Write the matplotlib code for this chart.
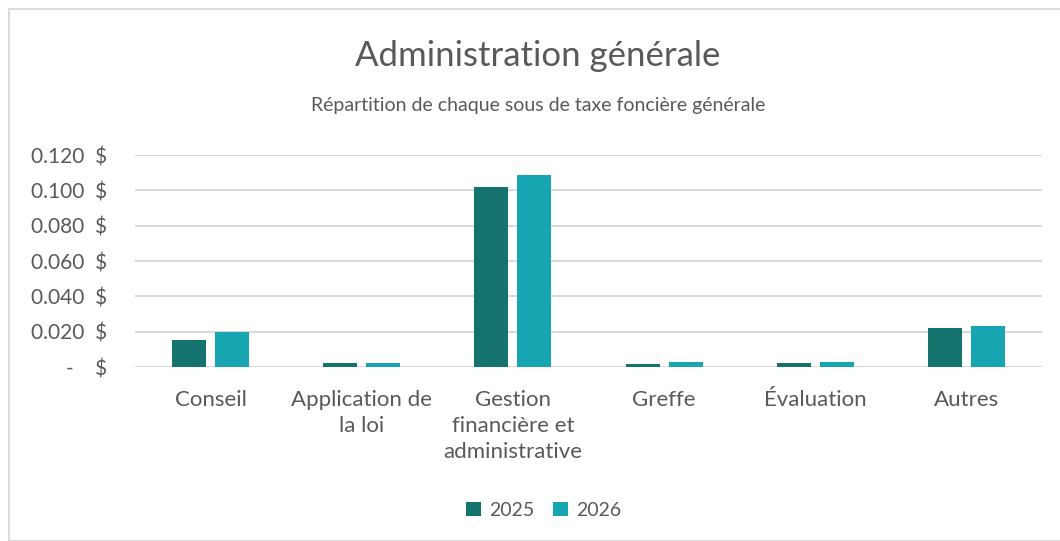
import numpy as np
import matplotlib.pyplot as plt
from matplotlib.patches import Rectangle
from matplotlib.ticker import FuncFormatter

categories = ["Conseil", "Application de\nla loi", "Gestion\nfinancière et\nadministrative",
              "Greffe", "Évaluation", "Autres"]
val_2025 = [0.0153, 0.0020, 0.1020, 0.0019, 0.0024, 0.0222]
val_2026 = [0.0200, 0.0020, 0.1088, 0.0028, 0.0028, 0.0233]
yticks = [0, 0.02, 0.04, 0.06, 0.08, 0.10, 0.12]

c25 = "#15736E"
c26 = "#18A5B2"
txt = "#595959"
grid = "#D9D9D9"

plt.rcParams['font.family'] = ['Lato', 'DejaVu Sans']

fig = plt.figure(figsize=(10.6, 5.41), dpi=100)
fig.patches.append(Rectangle((9/1060, 0), 1.0, 1 - 9/541, transform=fig.transFigure,
                             fill=False, edgecolor=grid, linewidth=1.3))
ax = fig.add_axes([135/1060, 1 - 367/541, 907/1060, 212/541])

x = np.arange(len(categories))
w = 0.225
gap = 0.06
ax.bar(x - (w + gap)/2, val_2025, w, color=c25, label="2025", zorder=3)
ax.bar(x + (w + gap)/2, val_2026, w, color=c26, label="2026", zorder=3)

ax.set_xlim(-0.5, len(categories) - 0.5)
ax.set_ylim(0, 0.12)
ax.set_yticks(yticks)

def fmt(v, pos):
    if abs(v) < 1e-9:
        return "-    $"
    return f"{v:.3f}  $"
ax.yaxis.set_major_formatter(FuncFormatter(fmt))
ax.grid(axis='y', color=grid, linewidth=1.5, zorder=0)
ax.set_axisbelow(True)
for s in ax.spines.values():
    s.set_visible(False)
ax.tick_params(axis='y', length=0, labelsize=15, colors=txt, pad=20)
ax.tick_params(axis='x', length=0, labelsize=16, colors=txt, pad=16.5)
ax.set_xticks(x)
ax.set_xticklabels(categories, linespacing=1.38)

fig.text(538/1060, 1 - 56/541, "Administration générale", ha='center', va='center',
         fontsize=25, color=txt)
fig.text(538/1060, 1 - 105/541, "Répartition de chaque sous de taxe foncière générale",
         ha='center', va='center', fontsize=14, color=txt)

fig.legend(loc='center', bbox_to_anchor=(544/1060, 1 - 510/541), ncol=2, frameon=False,
           fontsize=14, labelcolor=txt, handlelength=0.75, handleheight=0.75,
           handletextpad=0.45, columnspacing=0.95)

fig.savefig("out.png", dpi=100)
